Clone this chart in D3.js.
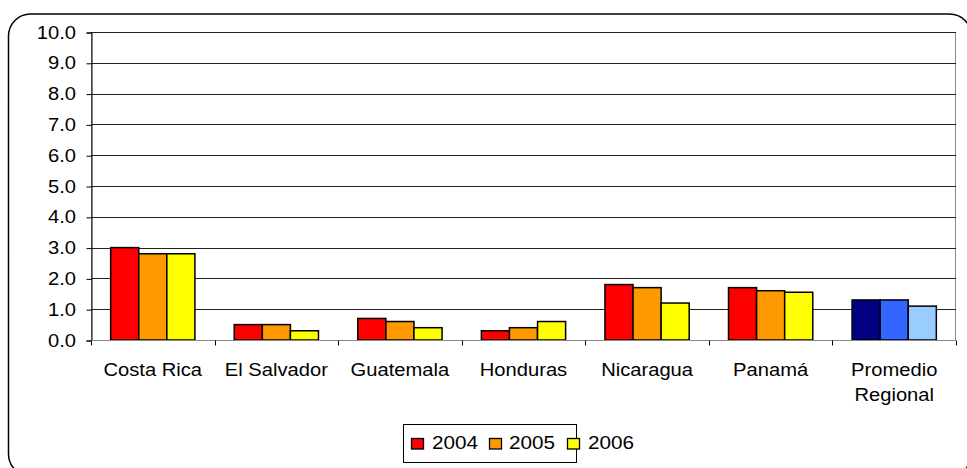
<!DOCTYPE html>
<html><head><meta charset="utf-8">
<script src="https://cdn.jsdelivr.net/npm/d3@7"></script>
<style>body{margin:0;background:#fff}svg{display:block}</style>
</head><body>
<svg id="c" width="967" height="468"></svg>
<script>
const categories = ["Costa Rica","El Salvador","Guatemala","Honduras","Nicaragua","Panamá","Promedio Regional"];
const years = ["2004","2005","2006"];
const v2004 = [3.0, 0.5, 0.7, 0.3, 1.8, 1.7, 1.3];
const v2005 = [2.8, 0.5, 0.6, 0.4, 1.7, 1.6, 1.3];
const v2006 = [2.8, 0.3, 0.4, 0.6, 1.2, 1.55, 1.1];
const yTicks = [0,1,2,3,4,5,6,7,8,9,10];
const colors = ["#FF0000","#FF9900","#FFFF00"];
const regionalColors = ["#000080","#3366FF","#99CCFF"];

const series = [v2004, v2005, v2006];
const svg = d3.select("#c");
const font = "Liberation Sans, Arial, sans-serif";
const FS = 18.5, SX = 1.09;

function txt(parent, x0, y0, s, anchor, size){
  return parent.append("text")
    .attr("transform", `translate(${x0},${y0}) scale(${SX},1)`)
    .attr("text-anchor", anchor).attr("font-family", font)
    .attr("font-size", size || FS).attr("fill", "#000").text(s);
}

// outer rounded frame
svg.append("rect").attr("x",8.5).attr("y",14).attr("width",963).attr("height",462)
  .attr("rx",22).attr("fill","none").attr("stroke","#000").attr("stroke-width",1.5);

const L = 91, R = 956, T = 32, B = 340;
const x = d3.scaleBand().domain(categories).range([L,R]).paddingInner(0).paddingOuter(0);
const xs = d3.scaleBand().domain(years).range([0,x.bandwidth()]).paddingInner(0).paddingOuter(0.7);
const y = d3.scaleLinear().domain([0,10]).range([B,T]);

// plot border
svg.append("rect").attr("x",L+0.5).attr("y",T+0.5).attr("width",R-L-1).attr("height",B-T)
  .attr("fill","none").attr("stroke","#888").attr("stroke-width",1);

// gridlines
svg.append("g").selectAll("line").data(yTicks.filter(d=>d>0)).join("line")
  .attr("x1",L).attr("x2",R).attr("y1",d=>Math.round(y(d))+0.5).attr("y2",d=>Math.round(y(d))+0.5)
  .attr("stroke","#222").attr("stroke-width",1);

// y axis
const yAxis = d3.axisLeft(y).tickValues(yTicks).tickFormat("").tickSize(5);
const gy = svg.append("g").attr("transform",`translate(${L+0.5},0.5)`).call(yAxis);
gy.select(".domain").attr("stroke","#000");
gy.selectAll(".tick line").attr("stroke","#000");
const fmt = d3.format(".1f");
yTicks.forEach(t => txt(svg, 76, y(t) + 6.5, fmt(t), "end"));

// bars
const g = svg.append("g");
categories.forEach((c,i)=>{
  years.forEach((yr,j)=>{
    const val = series[j][i];
    const isReg = i === categories.length-1;
    g.append("rect")
      .attr("x", x(c)+xs(yr))
      .attr("y", y(val))
      .attr("width", xs.bandwidth())
      .attr("height", y(0)-y(val))
      .attr("fill", isReg ? regionalColors[j] : colors[j])
      .attr("stroke","#000").attr("stroke-width",1.5);
  });
});

// x axis
const gx = svg.append("g").attr("transform",`translate(0,${B+0.5})`);
gx.append("line").attr("x1",L).attr("x2",R).attr("stroke","#888");
const bounds = categories.map(c=>x(c)).concat([R]);
gx.selectAll("line.t").data(bounds).join("line").attr("class","t")
  .attr("x1",d=>Math.round(d)+0.5).attr("x2",d=>Math.round(d)+0.5).attr("y1",0).attr("y2",5)
  .attr("stroke","#000");
categories.forEach(c=>{
  const cx = x(c)+x.bandwidth()/2;
  const parts = c === "Promedio Regional" ? ["Promedio","Regional"] : [c];
  parts.forEach((p,k)=> txt(svg, cx, 376 + k*25, p, "middle"));
});

// legend
const lg = svg.append("g");
lg.append("rect").attr("x",403.5).attr("y",424.5).attr("width",173).attr("height",38)
  .attr("fill","#fff").attr("stroke","#000").attr("stroke-width",1);
years.forEach((yr,j)=>{
  lg.append("rect").attr("x",[411,489,567][j]+0.5).attr("y",438.5).attr("width",12).attr("height",10.5)
    .attr("fill",colors[j]).attr("stroke","#000").attr("stroke-width",1.3);
  txt(lg, [432,509,588][j], 449, yr, "start", 19);
});
</script>
</body></html>
